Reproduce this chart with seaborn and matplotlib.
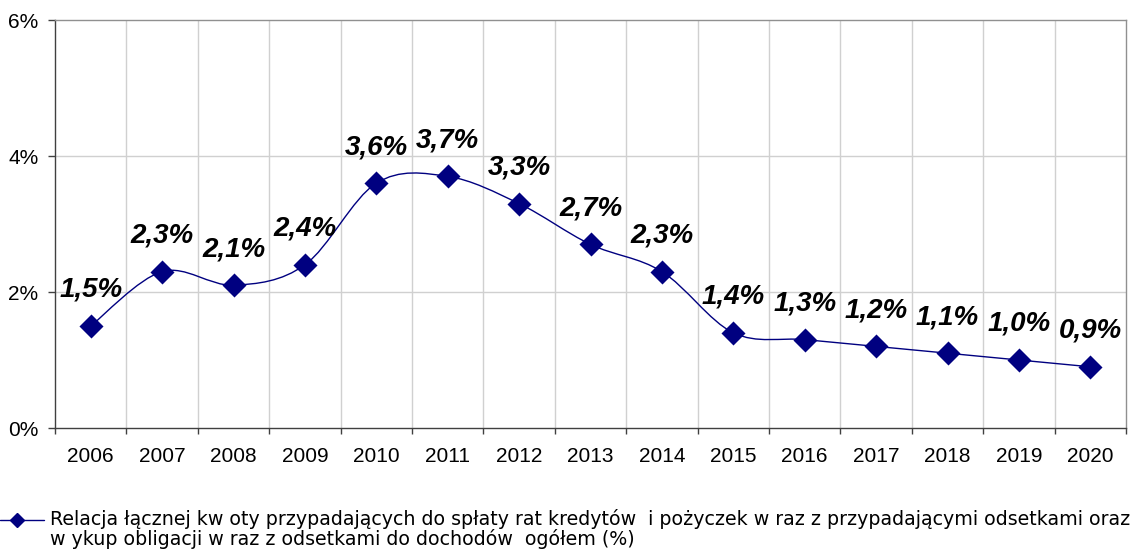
import numpy as np
import pandas as pd
import seaborn as sns
import matplotlib
matplotlib.use("Agg")
import matplotlib.pyplot as plt
from matplotlib.path import Path
from matplotlib.patches import PathPatch
from matplotlib.lines import Line2D

# Debt service ratio by year (percent of total revenue)
years = ["2006", "2007", "2008", "2009", "2010", "2011", "2012", "2013",
         "2014", "2015", "2016", "2017", "2018", "2019", "2020"]
ratio = [1.5, 2.3, 2.1, 2.4, 3.6, 3.7, 3.3, 2.7, 2.3, 1.4, 1.3, 1.2, 1.1, 1.0, 0.9]
y_ticks = [0, 2, 4, 6]
legend_text = ("Relacja łącznej kw oty przypadających do spłaty rat kredytów  i pożyczek w raz z przypadającymi odsetkami oraz\n"
               "w ykup obligacji w raz z odsetkami do dochodów  ogółem (%)")

sns.set_theme(style="white")
plt.rcParams["font.family"] = ["Liberation Sans", "DejaVu Sans"]

navy = "#000080"
df = pd.DataFrame({"pos": np.arange(len(years)), "ratio": ratio})

fig = plt.figure(figsize=(11.46, 5.60), dpi=100)
ax = fig.add_axes([55 / 1146, 1 - 428 / 560, (1126 - 55) / 1146, (428 - 20) / 560])

# smoothed connecting line (cubic Bezier segments through the points)
pts = df[["pos", "ratio"]].to_numpy(dtype=float)
n = len(pts)
verts = [tuple(pts[0])]
codes = [Path.MOVETO]
for i in range(n - 1):
    p_prev = pts[i - 1] if i > 0 else pts[i]
    p_next2 = pts[i + 2] if i + 2 < n else pts[i + 1]
    c1 = pts[i] + (pts[i + 1] - p_prev) / 6.0
    c2 = pts[i + 1] - (p_next2 - pts[i]) / 6.0
    verts += [tuple(c1), tuple(c2), tuple(pts[i + 1])]
    codes += [Path.CURVE4, Path.CURVE4, Path.CURVE4]
ax.add_patch(PathPatch(Path(verts, codes), facecolor="none", edgecolor=navy,
                       linewidth=1.0, zorder=3))

sns.scatterplot(data=df, x="pos", y="ratio", marker="D", s=150, color=navy,
                edgecolor=navy, linewidth=0, ax=ax, zorder=4, legend=False)

for x, v in zip(df["pos"], df["ratio"]):
    ax.annotate(f"{v:.1f}%".replace(".", ","), (x, v), xytext=(0, 21),
                textcoords="offset points", ha="center", va="baseline",
                fontsize=20, fontweight="bold", fontstyle="italic", color="black",
                zorder=5)

ax.set_xlim(-0.5, n - 0.5)
ax.set_ylim(0, 6)
ax.set_xticks(range(n))
ax.set_xticklabels(years)
ax.set_xticks(np.arange(-0.5, n, 1.0), minor=True)
ax.set_yticks(y_ticks)
ax.set_yticklabels([f"{t}%" for t in y_ticks])
ax.set_xlabel("")
ax.set_ylabel("")

ax.tick_params(axis="x", which="major", length=0, pad=14, labelsize=15, colors="black")
ax.tick_params(axis="x", which="minor", length=4.5, width=1, color="#404040", direction="out", bottom=True)
ax.tick_params(axis="y", which="major", length=5, width=1, color="#404040", direction="out",
               left=True, pad=7, labelsize=15, labelcolor="black")

ax.grid(False)
for xb in np.arange(0.5, n - 1, 1.0):
    ax.axvline(xb, color="#d0d0d0", linewidth=1, zorder=1)
for yt in y_ticks[1:-1]:
    ax.axhline(yt, color="#d0d0d0", linewidth=1, zorder=1)

for side in ["left", "bottom"]:
    ax.spines[side].set_color("#404040")
    ax.spines[side].set_linewidth(1)
for side in ["top", "right"]:
    ax.spines[side].set_color("#909090")
    ax.spines[side].set_linewidth(1)

# legend key and text at the bottom
fig.add_artist(Line2D([0 / 1146, 44 / 1146], [1 - 520 / 560, 1 - 520 / 560],
                      transform=fig.transFigure, color=navy, linewidth=1))
fig.add_artist(Line2D([17 / 1146], [1 - 520 / 560], transform=fig.transFigure,
                      color=navy, marker="D", markersize=7, linewidth=0))
fig.text(50 / 1146, 1 - 529 / 560, legend_text, ha="left", va="center",
         fontsize=13.7, color="black", linespacing=0.95,
         family=["DejaVu Sans"])

fig.savefig("out.png", dpi=100)
